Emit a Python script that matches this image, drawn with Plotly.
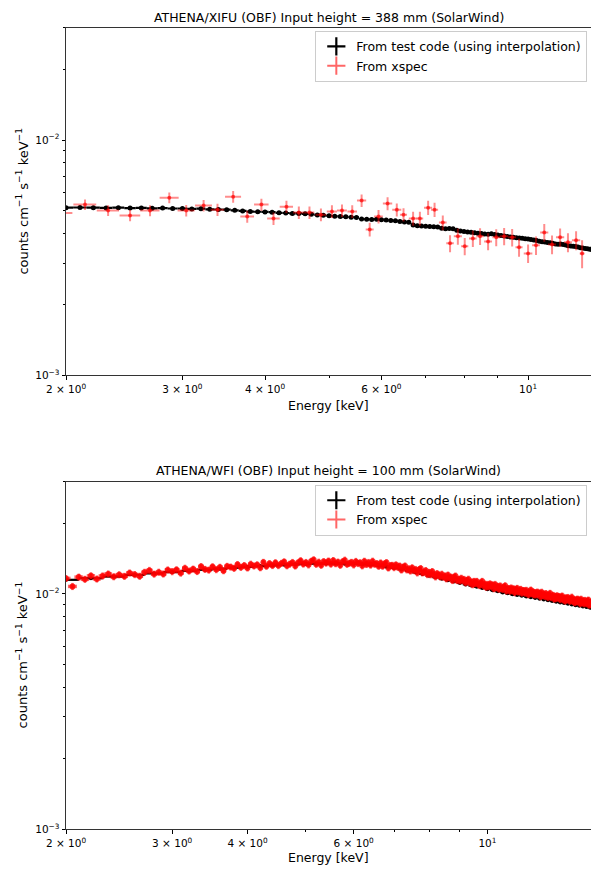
import math
import plotly.graph_objects as go

# ---------------- Top panel: ATHENA/XIFU ----------------
E_TEST_TOP = [
    2.0, 2.1, 2.2, 2.3, 2.4, 2.5, 2.6, 2.7, 2.8, 2.9,
    3.0, 3.1, 3.2, 3.3, 3.4, 3.5, 3.6, 3.7, 3.8, 3.9,
    4.0, 4.1, 4.2, 4.3, 4.4, 4.5, 4.6, 4.7, 4.8, 4.9,
    5.0, 5.1, 5.2, 5.3, 5.4, 5.5, 5.6, 5.7, 5.8, 5.9,
    6.0, 6.1, 6.2, 6.3, 6.4, 6.5, 6.6, 6.7, 6.8, 6.9,
    7.0, 7.1, 7.2, 7.3, 7.4, 7.5, 7.6, 7.7, 7.8, 7.9,
    8.0, 8.1, 8.2, 8.3, 8.4, 8.5, 8.6, 8.7, 8.8, 8.9,
    9.0, 9.1, 9.2, 9.3, 9.4, 9.5, 9.6, 9.7, 9.8, 9.9,
    10.0, 10.1, 10.2, 10.3, 10.4, 10.5, 10.6, 10.7, 10.8, 10.9,
    11.0, 11.1, 11.2, 11.3, 11.4, 11.5, 11.6, 11.7, 11.8, 11.9,
    12.0, 12.1, 12.2, 12.3, 12.4, 12.5, 12.6,
]
C_TEST_TOP = [
    0.00516, 0.00517, 0.00516, 0.00515, 0.00516, 0.00514, 0.00515, 0.00513, 0.00514, 0.00512,
    0.00512, 0.00510, 0.00511, 0.00508, 0.00507, 0.00506, 0.00503, 0.00500, 0.00497, 0.00496,
    0.00495, 0.00494, 0.00491, 0.00490, 0.00488, 0.00488, 0.00486, 0.00484, 0.00481, 0.00479,
    0.00477, 0.00475, 0.00473, 0.00472, 0.00470, 0.00469, 0.00462, 0.00461, 0.00460, 0.00461,
    0.00459, 0.00457, 0.00455, 0.00454, 0.00451, 0.00449, 0.00447, 0.00436, 0.00432, 0.00431,
    0.00430, 0.00429, 0.00428, 0.00427, 0.00422, 0.00420, 0.00421, 0.00420, 0.00414, 0.00411,
    0.00409, 0.00407, 0.00406, 0.00404, 0.00402, 0.00401, 0.00399, 0.00398, 0.00400, 0.00397,
    0.00395, 0.00393, 0.00391, 0.00389, 0.00387, 0.00386, 0.00385, 0.00384, 0.00383, 0.00381,
    0.00380, 0.00378, 0.00376, 0.00374, 0.00372, 0.00370, 0.00369, 0.00367, 0.00366, 0.00364,
    0.00362, 0.00361, 0.00362, 0.00360, 0.00358, 0.00356, 0.00355, 0.00354, 0.00353, 0.00351,
    0.00349, 0.00348, 0.00346, 0.00345, 0.00344, 0.00342, 0.00341,
]

E_XSPEC_TOP = [
    1.96, 2.137, 2.316, 2.50, 2.68, 2.866, 3.04, 3.23, 3.39, 3.58,
    3.76, 3.95, 4.12, 4.31, 4.50, 4.67, 4.86, 5.05, 5.23, 5.42,
    5.60, 5.76, 5.94, 6.13, 6.33, 6.48, 6.70, 6.86, 7.06, 7.22,
    7.43, 7.62, 7.83, 8.02, 8.25, 8.46, 8.70, 8.95, 9.20, 9.46,
    9.69, 10.0, 10.28, 10.58, 10.87, 11.18, 11.49, 11.82, 12.07,
]
C_XSPEC_TOP = [
    0.00490, 0.00532, 0.00502, 0.00478, 0.00502, 0.00569, 0.00502, 0.00527, 0.00506, 0.00575,
    0.00473, 0.00532, 0.00464, 0.00521, 0.00492, 0.00492, 0.00482, 0.00497, 0.00502, 0.00497,
    0.00553, 0.00417, 0.00473, 0.00537, 0.00506, 0.00482, 0.00464, 0.00464, 0.00516, 0.00506,
    0.00446, 0.00364, 0.00390, 0.00354, 0.00382, 0.00390, 0.00371, 0.00386, 0.00390, 0.00386,
    0.00350, 0.00330, 0.00357, 0.00405, 0.00360, 0.00386, 0.00368, 0.00375, 0.00330,
]
EW_XSPEC_TOP = [
    0.085, 0.085, 0.09, 0.09, 0.09, 0.095, 0.09, 0.095, 0.08, 0.10,
    0.09, 0.10, 0.09, 0.10, 0.09, 0.08, 0.09, 0.09, 0.09, 0.09,
    0.09, 0.08, 0.09, 0.10, 0.10, 0.08, 0.10, 0.08, 0.10, 0.09,
    0.10, 0.10, 0.11, 0.10, 0.11, 0.11, 0.12, 0.12, 0.13, 0.13,
    0.12, 0.15, 0.14, 0.15, 0.15, 0.16, 0.16, 0.17, 0.10,
]
CE_XSPEC_TOP = [
    0.00027, 0.00027, 0.00026, 0.00026, 0.00027, 0.00030, 0.00028, 0.00030, 0.00030, 0.00033,
    0.00028, 0.00031, 0.00028, 0.00031, 0.00030, 0.00030, 0.00030, 0.00031, 0.00031, 0.00031,
    0.00034, 0.00028, 0.00031, 0.00034, 0.00032, 0.00031, 0.00032, 0.00032, 0.00036, 0.00035,
    0.00032, 0.00030, 0.00031, 0.00030, 0.00031, 0.00032, 0.00031, 0.00032, 0.00033, 0.00033,
    0.00031, 0.00030, 0.00032, 0.00035, 0.00033, 0.00035, 0.00034, 0.00035, 0.00045,
]

# ---------------- Bottom panel: ATHENA/WFI ----------------
E_TEST_BOT = [
    2.0, 2.2, 2.4, 2.6, 2.8, 3.0, 3.2, 3.4, 3.6, 3.8,
    4.0, 4.2, 4.4, 4.6, 4.8, 5.0, 5.2, 5.4, 5.6, 5.8,
    6.0, 6.2, 6.4, 6.6, 6.8, 7.0, 7.2, 7.4, 7.6, 7.8,
    8.0, 8.2, 8.4, 8.6, 8.8, 9.0, 9.2, 9.4, 9.6, 9.8,
    10.0, 10.2, 10.4, 10.6, 10.8, 11.0, 11.2, 11.4, 11.6, 11.8,
    12.0, 12.2, 12.4, 12.6, 12.8, 13.0, 13.2, 13.4, 13.6, 13.8,
    14.0, 14.2, 14.4, 14.6, 14.8, 15.0,
]
C_TEST_BOT = [
    0.01148, 0.01166, 0.01185, 0.01204, 0.01222, 0.01238, 0.01252, 0.01266, 0.01280, 0.01292,
    0.01303, 0.01313, 0.01322, 0.01330, 0.01336, 0.01341, 0.01344, 0.01346, 0.01346, 0.01345,
    0.01342, 0.01337, 0.01330, 0.01320, 0.01305, 0.01290, 0.01272, 0.01254, 0.01235, 0.01216,
    0.01196, 0.01178, 0.01160, 0.01143, 0.01128, 0.01113, 0.01098, 0.01085, 0.01072, 0.01060,
    0.01048, 0.01037, 0.01026, 0.01015, 0.01006, 0.00997, 0.00989, 0.00982, 0.00975, 0.00968,
    0.00962, 0.00955, 0.00948, 0.00940, 0.00933, 0.00926, 0.00920, 0.00914, 0.00908, 0.00902,
    0.00896, 0.00890, 0.00884, 0.00879, 0.00873, 0.00868,
]

E_XSPEC_BOT = [
    2.00, 2.05, 2.10, 2.15, 2.20, 2.25, 2.30, 2.35, 2.40, 2.45,
    2.50, 2.55, 2.60, 2.65, 2.70, 2.75, 2.80, 2.85, 2.90, 2.95,
    3.00, 3.05, 3.10, 3.15, 3.20, 3.25, 3.30, 3.35, 3.40, 3.45,
    3.50, 3.55, 3.60, 3.65, 3.70, 3.75, 3.80, 3.85, 3.90, 3.95,
    4.00, 4.05, 4.10, 4.15, 4.20, 4.25, 4.30, 4.35, 4.40, 4.45,
    4.50, 4.55, 4.60, 4.65, 4.70, 4.75, 4.80, 4.85, 4.90, 4.95,
    5.00, 5.05, 5.10, 5.15, 5.20, 5.25, 5.30, 5.35, 5.40, 5.45,
    5.50, 5.55, 5.60, 5.65, 5.70, 5.75, 5.80, 5.85, 5.90, 5.95,
    6.00, 6.05, 6.10, 6.15, 6.20, 6.25, 6.30, 6.35, 6.40, 6.45,
    6.50, 6.55, 6.60, 6.65, 6.70, 6.75, 6.80, 6.85, 6.90, 6.95,
    7.00, 7.05, 7.10, 7.15, 7.20, 7.25, 7.30, 7.35, 7.40, 7.45,
    7.50, 7.55, 7.60, 7.65, 7.70, 7.75, 7.80, 7.85, 7.90, 7.95,
    8.00, 8.05, 8.10, 8.15, 8.20, 8.25, 8.30, 8.35, 8.40, 8.45,
    8.50, 8.55, 8.60, 8.65, 8.70, 8.75, 8.80, 8.85, 8.90, 8.95,
    9.00, 9.05, 9.10, 9.15, 9.20, 9.25, 9.30, 9.35, 9.40, 9.45,
    9.50, 9.55, 9.60, 9.65, 9.70, 9.75, 9.80, 9.85, 9.90, 9.95,
    10.00, 10.05, 10.10, 10.15, 10.20, 10.25, 10.30, 10.35, 10.40, 10.45,
    10.50, 10.55, 10.60, 10.65, 10.70, 10.75, 10.80, 10.85, 10.90, 10.95,
    11.00, 11.05, 11.10, 11.15, 11.20, 11.25, 11.30, 11.35, 11.40, 11.45,
    11.50, 11.55, 11.60, 11.65, 11.70, 11.75, 11.80, 11.85, 11.90, 11.95,
    12.00, 12.05, 12.10, 12.15, 12.20, 12.25, 12.30, 12.35, 12.40, 12.45,
    12.50, 12.55, 12.60, 12.65, 12.70, 12.75, 12.80, 12.85, 12.90, 12.95,
    13.00, 13.05, 13.10, 13.15, 13.20, 13.25, 13.30, 13.35, 13.40, 13.45,
    13.50, 13.55, 13.60, 13.65, 13.70, 13.75, 13.80, 13.85, 13.90, 13.95,
    14.00, 14.05, 14.10, 14.15, 14.20, 14.25, 14.30, 14.35, 14.40, 14.45,
    14.50, 14.55, 14.60, 14.65, 14.70, 14.75, 14.80, 14.85, 14.90, 14.95,
]
C_XSPEC_BOT = [
    0.01164, 0.01076, 0.01179, 0.01154, 0.01194, 0.01158, 0.01193, 0.01216, 0.01184, 0.01207,
    0.01188, 0.01228, 0.01209, 0.01189, 0.01236, 0.01259, 0.01214, 0.01237, 0.01216, 0.01265,
    0.01244, 0.01267, 0.01226, 0.01286, 0.01252, 0.01275, 0.01246, 0.01307, 0.01272, 0.01263,
    0.01305, 0.01269, 0.01298, 0.01256, 0.01310, 0.01301, 0.01285, 0.01334, 0.01297, 0.01320,
    0.01290, 0.01338, 0.01315, 0.01330, 0.01293, 0.01362, 0.01311, 0.01346, 0.01321, 0.01358,
    0.01320, 0.01348, 0.01369, 0.01318, 0.01339, 0.01361, 0.01315, 0.01357, 0.01385, 0.01340,
    0.01361, 0.01329, 0.01376, 0.01397, 0.01337, 0.01365, 0.01324, 0.01372, 0.01352, 0.01380,
    0.01339, 0.01387, 0.01345, 0.01366, 0.01324, 0.01371, 0.01392, 0.01337, 0.01350, 0.01362,
    0.01329, 0.01375, 0.01347, 0.01358, 0.01317, 0.01377, 0.01335, 0.01361, 0.01326, 0.01378,
    0.01337, 0.01347, 0.01311, 0.01355, 0.01312, 0.01342, 0.01359, 0.01290, 0.01320, 0.01323,
    0.01294, 0.01329, 0.01299, 0.01314, 0.01265, 0.01300, 0.01315, 0.01266, 0.01281, 0.01252,
    0.01292, 0.01257, 0.01271, 0.01229, 0.01268, 0.01282, 0.01229, 0.01236, 0.01257, 0.01209,
    0.01235, 0.01207, 0.01245, 0.01210, 0.01182, 0.01220, 0.01204, 0.01182, 0.01213, 0.01179,
    0.01193, 0.01160, 0.01203, 0.01171, 0.01179, 0.01141, 0.01177, 0.01192, 0.01141, 0.01156,
    0.01135, 0.01166, 0.01140, 0.01153, 0.01116, 0.01141, 0.01155, 0.01113, 0.01126, 0.01095,
    0.01131, 0.01105, 0.01131, 0.01106, 0.01086, 0.01112, 0.01131, 0.01084, 0.01103, 0.01068,
    0.01098, 0.01073, 0.01104, 0.01079, 0.01093, 0.01053, 0.01098, 0.01064, 0.01077, 0.01048,
    0.01082, 0.01059, 0.01045, 0.01070, 0.01084, 0.01029, 0.01052, 0.01055, 0.01027, 0.01061,
    0.01033, 0.01052, 0.01013, 0.01042, 0.01056, 0.01019, 0.01027, 0.01046, 0.01008, 0.01031,
    0.01034, 0.01007, 0.01036, 0.01014, 0.00993, 0.01021, 0.01039, 0.01003, 0.01021, 0.00990,
    0.01013, 0.00991, 0.01019, 0.00997, 0.01010, 0.00974, 0.01017, 0.00985, 0.00998, 0.00976,
    0.01004, 0.00982, 0.00965, 0.00989, 0.01006, 0.00965, 0.00978, 0.00986, 0.00951, 0.00978,
    0.00956, 0.00983, 0.00963, 0.00975, 0.00946, 0.00968, 0.00980, 0.00945, 0.00958, 0.00933,
    0.00964, 0.00944, 0.00966, 0.00946, 0.00930, 0.00952, 0.00969, 0.00931, 0.00947, 0.00918,
    0.00944, 0.00925, 0.00951, 0.00931, 0.00943, 0.00909, 0.00950, 0.00920, 0.00933, 0.00908,
    0.00939, 0.00920, 0.00909, 0.00931, 0.00942, 0.00896, 0.00918, 0.00920, 0.00896, 0.00926,
]

TITLE_TOP = "ATHENA/XIFU (OBF) Input height = 388 mm (SolarWind)"
TITLE_BOT = "ATHENA/WFI (OBF) Input height = 100 mm (SolarWind)"
LABEL_TEST = "From test code (using interpolation)"
LABEL_XSPEC = "From xspec"
X_TITLE = "Energy [keV]"
Y_TITLE = "counts cm<sup>−1</sup> s<sup>−1</sup> keV<sup>−1</sup>"
X_TICKS = [2, 3, 4, 6, 10]
X_TICKTEXT = ["2 × 10<sup>0</sup>", "3 × 10<sup>0</sup>",
              "4 × 10<sup>0</sup>", "6 × 10<sup>0</sup>",
              "10<sup>1</sup>"]
X_MINOR = [5, 7, 8, 9, 20]
Y_TICKS = [0.001, 0.01]
Y_TICKTEXT = ["10<sup>−3</sup>", "10<sup>−2</sup>"]
Y_MINOR = [0.002, 0.003, 0.004, 0.005, 0.006, 0.007, 0.008, 0.009, 0.02, 0.03]

FONT = "DejaVu Sans"
RED_BAR = "rgba(255,0,0,0.45)"
RED_MK = "rgba(255,0,0,0.65)"
RED_BAR_B = "rgba(255,0,0,0.6)"
RED_MK_B = "rgba(255,0,0,0.8)"

W, H = 591, 870
ML = 66
PW = W - ML


def py(px):
    return (H - px) / H


fig = go.Figure()

# top panel traces
fig.add_trace(go.Scatter(
    x=E_TEST_TOP, y=C_TEST_TOP, mode="markers", xaxis="x", yaxis="y",
    marker=dict(color="black", size=5),
    error_x=dict(type="constant", value=0.05, color="black", thickness=2.2, width=0),
    showlegend=False))
fig.add_trace(go.Scatter(
    x=E_XSPEC_TOP, y=C_XSPEC_TOP, mode="markers", xaxis="x", yaxis="y",
    marker=dict(color=RED_MK, size=4),
    error_x=dict(type="data", array=EW_XSPEC_TOP, color=RED_BAR, thickness=2, width=0),
    error_y=dict(type="data", array=CE_XSPEC_TOP, color=RED_BAR, thickness=2, width=0),
    showlegend=False))

# bottom panel traces
fig.add_trace(go.Scatter(
    x=E_TEST_BOT, y=C_TEST_BOT, mode="markers", xaxis="x2", yaxis="y2",
    marker=dict(color="black", size=4),
    error_x=dict(type="constant", value=0.1, color="black", thickness=2.2, width=0),
    showlegend=False))
fig.add_trace(go.Scatter(
    x=E_XSPEC_BOT, y=C_XSPEC_BOT, mode="markers", xaxis="x2", yaxis="y2",
    marker=dict(color=RED_MK_B, size=6),
    error_x=dict(type="constant", value=0.035, color=RED_BAR_B, thickness=3.5, width=0),
    error_y=dict(type="percent", value=3.5, color=RED_BAR_B, thickness=2.5, width=0),
    showlegend=False))

# legend entries
for leg, xa, ya in (("legend", "x", "y"), ("legend2", "x2", "y2")):
    fig.add_trace(go.Scatter(
        x=[None], y=[None], mode="markers", name=LABEL_TEST, legend=leg,
        xaxis=xa, yaxis=ya,
        marker=dict(symbol="cross-thin", size=13, color="black",
                    line=dict(color="black", width=2.2))))
    fig.add_trace(go.Scatter(
        x=[None], y=[None], mode="markers", name=LABEL_XSPEC, legend=leg,
        xaxis=xa, yaxis=ya,
        marker=dict(symbol="cross-thin", size=13, color=RED_BAR,
                    line=dict(color=RED_BAR_B, width=2))))

common_x = dict(type="log", tickmode="array", tickvals=X_TICKS, ticktext=X_TICKTEXT,
                ticks="outside", ticklen=3.5, tickwidth=0.8, tickcolor="black",
                ticklabelstandoff=1,
                showline=True, linecolor="#333333", linewidth=0.9, mirror=True,
                showgrid=False, zeroline=False,
                tickfont=dict(family=FONT, size=10.5, color="black"),
                minor=dict(tickmode="array", tickvals=X_MINOR, ticks="outside",
                           ticklen=2, tickwidth=0.6, tickcolor="black", showgrid=False))
common_y = dict(type="log", tickmode="array", tickvals=Y_TICKS, ticktext=Y_TICKTEXT,
                range=[-3, math.log10(0.03)],
                ticks="outside", ticklen=3.5, tickwidth=0.8, tickcolor="black",
                showline=True, linecolor="#333333", linewidth=0.9, mirror=False,
                showgrid=False, zeroline=False,
                tickfont=dict(family=FONT, size=10.5, color="black"),
                minor=dict(tickmode="array", tickvals=Y_MINOR, ticks="outside",
                           ticklen=2, tickwidth=0.6, tickcolor="black", showgrid=False))

fig.update_layout(
    width=W, height=H,
    margin=dict(l=ML, r=0, t=0, b=0),
    paper_bgcolor="white", plot_bgcolor="white",
    font=dict(family=FONT, size=12, color="black"),
    xaxis=dict(common_x, domain=[0, 1], anchor="y", range=[math.log10(2), math.log10(12.45)]),
    yaxis=dict(common_y, domain=[py(378), py(28)], anchor="x"),
    xaxis2=dict(common_x, domain=[0, 1], anchor="y2", range=[math.log10(2), math.log10(14.85)]),
    yaxis2=dict(common_y, domain=[py(835), py(485)], anchor="x2"),
    legend=dict(x=0.993, xanchor="right", y=py(31), yanchor="top",
                bgcolor="rgba(255,255,255,0.8)", bordercolor="#cccccc", borderwidth=1,
                font=dict(family=FONT, size=12.5, color="black")),
    legend2=dict(x=0.993, xanchor="right", y=py(488), yanchor="top",
                 bgcolor="rgba(255,255,255,0.8)", bordercolor="#cccccc", borderwidth=1,
                 font=dict(family=FONT, size=12.5, color="black")),
)

ann = []
for txt, ypx in ((TITLE_TOP, 18), (TITLE_BOT, 474)):
    ann.append(dict(text=txt, x=0.5, xref="paper", y=py(ypx), yref="paper",
                    xanchor="center", yanchor="middle", showarrow=False,
                    font=dict(family=FONT, size=12.5, color="black")))
for ypx in (408, 863):
    ann.append(dict(text=X_TITLE, x=0.5, xref="paper", y=py(ypx), yref="paper",
                    xanchor="center", yanchor="middle", showarrow=False,
                    font=dict(family=FONT, size=12.5, color="black")))
for ypx in (203, 660):
    ann.append(dict(text=Y_TITLE, x=(22 - ML) / PW, xref="paper", y=py(ypx), yref="paper",
                    xanchor="center", yanchor="middle", showarrow=False, textangle=-90,
                    font=dict(family=FONT, size=13, color="black")))
fig.update_layout(annotations=ann)

fig.write_html("out.html")
